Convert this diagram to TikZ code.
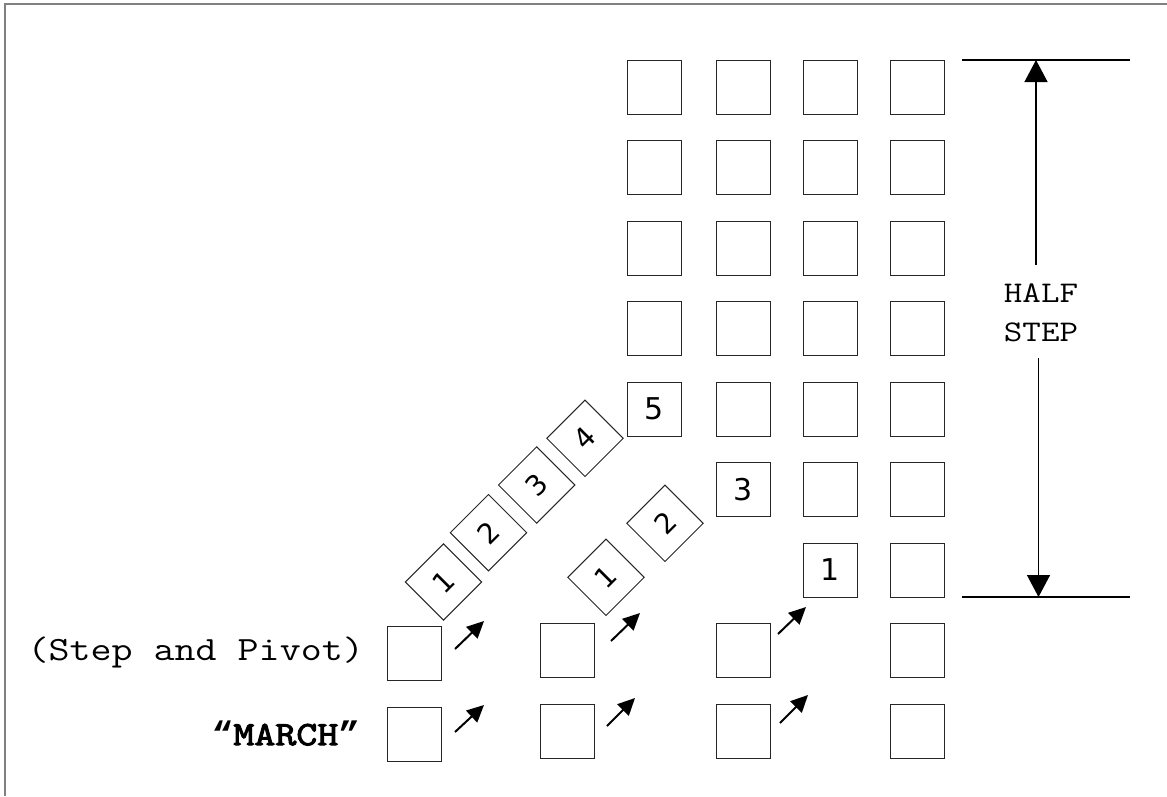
\documentclass[tikz,border=0pt]{standalone}
\usepackage{fontspec}
\setmainfont{DejaVu Sans}
\newfontfamily\cour{Latin Modern Mono}[FakeStretch=1.2]
\newfontfamily\courbold{Latin Modern Mono}[FakeStretch=1.2, FakeBold=3]
\newfontfamily\quotebold{Liberation Mono Bold}[FakeStretch=1.05]
\usetikzlibrary{arrows.meta}
\begin{document}
\begin{tikzpicture}[x=1pt,y=-1pt,
  sq/.style={draw=black!85, line width=1pt, minimum width=54pt, minimum height=54pt, inner sep=0pt, font=\fontsize{30}{32}\selectfont},
  dsq/.style={sq, rotate=45, font=\fontsize{28}{30}\selectfont},
  smallarrow/.style={line width=2pt, -{Triangle[length=17pt,width=16pt]}},
  bigarrow/.style={line width=1.4pt, -{Triangle[length=22pt,width=23pt]}},
  dimline/.style={line width=1.6pt},
  lab/.style={font=\cour\fontsize{34}{40}\selectfont, inner sep=0pt},
  frame/.style={draw=black!50, line width=2pt}
]
\useasboundingbox (0,0) rectangle (1167,796);
\draw[frame] (4.5,796) -- (4.5,3.5) -- (1167,3.5);

% grid
\foreach \r/\y in {0/87,1/167.5,2/248,3/328.5}{
  \foreach \c/\x in {1/654,2/743.5,3/830.5,4/917.3}{
    \node[sq] (g\r\c) at (\x,\y) {};
  }
}
\node[sq] (g41) at (654,409) {5};
\node[sq] (g42) at (743.5,409) {};
\node[sq] (g43) at (830.5,409) {};
\node[sq] (g44) at (917.3,409) {};
\node[sq] (g52) at (743.5,489.5) {3};
\node[sq] (g53) at (830.5,489.5) {};
\node[sq] (g54) at (917.3,489.5) {};
\node[sq] (g63) at (830.5,570) {1};
\node[sq] (g64) at (917.3,570) {};

% step and pivot row
\node[sq] (s1) at (414.8,653.5) {};
\node[sq] (s2) at (567,650.5) {};
\node[sq] (s3) at (743.5,650.5) {};
\node[sq] (s4) at (917.3,650.5) {};
% march row
\node[sq] (m1) at (414.8,734) {};
\node[sq] (m2) at (567,731) {};
\node[sq] (m3) at (743.5,731) {};
\node[sq] (m4) at (917.3,731) {};

% diamonds
\node[dsq] (da1) at (443.5,582) {1};
\node[dsq] (da2) at (488.5,532.7) {2};
\node[dsq] (da3) at (536.7,485) {3};
\node[dsq] (da4) at (585,438.3) {4};
\node[dsq] (db1) at (606,577.3) {1};
\node[dsq] (db2) at (665,523.3) {2};

% small arrows
\coordinate (sa1t) at (455,649); \coordinate (sa1h) at (484,621);
\coordinate (sa2t) at (611,641); \coordinate (sa2h) at (640,613);
\coordinate (sa3t) at (778,634); \coordinate (sa3h) at (806,607);
\coordinate (ma1t) at (455,732); \coordinate (ma1h) at (484,705);
\coordinate (ma2t) at (607,726); \coordinate (ma2h) at (635,698);
\coordinate (ma3t) at (780,723); \coordinate (ma3h) at (808,695);
\foreach \a in {sa1,sa2,sa3,ma1,ma2,ma3}{
  \draw[smallarrow] (\a t) -- (\a h);
}

% labels
\node[lab, anchor=east] (steppivot) at (364,652) {(Step and Pivot)};
\node[lab, anchor=east, font=\courbold\fontsize{34}{40}\selectfont] (march) at (360,733) {{\quotebold “}MARCH{\quotebold ”}};

% half step dimension
\coordinate (tl) at (962,60); \coordinate (tr) at (1130,60);
\coordinate (bl) at (962,597); \coordinate (br) at (1130,597);
\draw[dimline] (tl) -- (tr);
\draw[dimline] (bl) -- (br);
\node[font=\cour\fontsize{30}{39}\selectfont, align=center, inner sep=0pt] (half) at (1041,313) {HALF\\STEP};
\coordinate (tarr) at (1036,60); \coordinate (tstart) at (1036,265);
\coordinate (barr) at (1038.5,597); \coordinate (bstart) at (1038.5,358);
\draw[bigarrow] (tstart) -- (tarr);
\draw[bigarrow] (bstart) -- (barr);
\end{tikzpicture}
\end{document}
